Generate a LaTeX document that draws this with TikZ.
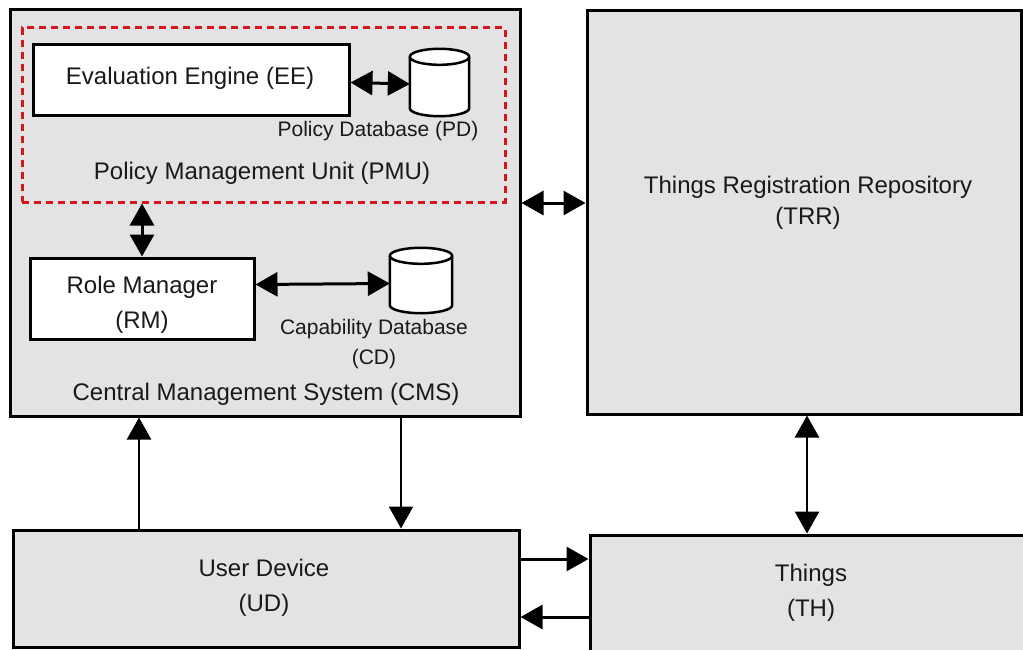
\documentclass[tikz,border=0pt]{standalone}
\usepackage{fontspec}
\setmainfont{Liberation Sans}
\usetikzlibrary{arrows.meta,calc}

\definecolor{boxgray}{RGB}{227,227,227}
\definecolor{pmured}{RGB}{214,22,28}

\tikzset{
  x=1pt, y=1pt,
  block/.style={draw=black, line width=3pt, fill=boxgray, inner sep=0pt},
  inner/.style={draw=black, line width=3pt, fill=white, inner sep=0pt},
  unit/.style={draw=pmured, line width=3pt, dash pattern=on 7pt off 5pt, inner sep=0pt},
  dbshape/.style={inner sep=0pt},
  dbline/.style={draw=black, line width=2.5pt, fill=white},
  lbl/.style={inner sep=0pt, font=\fontsize{24}{29}\selectfont, text=black!90},
  small/.style={inner sep=0pt, font=\fontsize{21}{25}\selectfont, text=black!90},
  tip/.style={Triangle[length=22pt, width=24pt]},
  both/.style={{Triangle[length=22pt, width=24pt]}-{Triangle[length=22pt, width=24pt]}, line width=3pt},
  one/.style={-{Triangle[length=22pt, width=24pt]}, line width=2.2pt},
}

% cylinder drawn inside the bounding box of a named node
\newcommand\drawdb[1]{%
  \path[dbline] let \p1=(#1.north west), \p2=(#1.south east), \n1={(\x2-\x1)/2} in
    (\x1,\y1-8pt) -- (\x1,\y2+8pt)
    arc[start angle=180, end angle=360, x radius=\n1, y radius=8pt]
    -- (\x2,\y1-8pt)
    arc[start angle=0, end angle=180, x radius=\n1, y radius=8pt] -- cycle;
  \draw[line width=2.5pt] let \p1=(#1.north west), \p2=(#1.south east), \n1={(\x2-\x1)/2} in
    (\x1,\y1-8pt) arc[start angle=180, end angle=360, x radius=\n1, y radius=8pt];
}

\begin{document}
\begin{tikzpicture}
\clip (0,0) rectangle (1023,-650);
\fill[white] (0,0) rectangle (1023,-650);

% outer systems
\node[block, minimum width=510pt, minimum height=406pt] (cms) at (265,-213) {};
\node[block, minimum width=434pt, minimum height=403pt] (trr) at (804,-212.5) {};
\node[block, minimum width=506pt, minimum height=117pt] (ud) at (266,-588.5) {};
\node[block, minimum width=450pt, minimum height=130pt] (th) at (815,-600) {};

% policy management unit
\node[unit, minimum width=483pt, minimum height=174pt] (pmu) at (263.5,-115) {};
\node[inner, minimum width=316pt, minimum height=71pt] (ee) at (191,-80.5) {};
\node[dbshape, minimum width=59pt, minimum height=67pt] (pd) at (439.5,-82.5) {};
\drawdb{pd}

% role manager and capability database
\node[inner, minimum width=224pt, minimum height=81pt] (rm) at (142,-298.5) {};
\node[dbshape, minimum width=62pt, minimum height=65pt] (cd) at (421,-280.5) {};
\drawdb{cd}

% labels
\node[lbl] (eet) at (190,-78) {Evaluation Engine (EE)};
\node[small] (pdt) at (378,-131) {Policy Database (PD)};
\node[lbl] (pmut) at (262,-173) {Policy Management Unit (PMU)};
\node[lbl] (rmt1) at (142,-287) {Role Manager};
\node[lbl] (rmt2) at (142,-322) {(RM)};
\node[small] (cdt1) at (374,-329) {Capability Database};
\node[small] (cdt2) at (374,-359) {(CD)};
\node[lbl] (cmst) at (266,-394) {Central Management System (CMS)};
\node[lbl] (trrt1) at (808,-187) {Things Registration Repository};
\node[lbl] (trrt2) at (808,-218) {(TRR)};
\node[lbl] (udt1) at (264,-568) {User Device};
\node[lbl] (udt2) at (264,-605) {(UD)};
\node[lbl] (tht1) at (811,-575) {Things};
\node[lbl] (tht2) at (811,-610) {(TH)};

% connectors
\draw[both] ([yshift=-2pt]ee.east) -- ([yshift=-1.5pt]pd.west);
\draw[both] (rm.north |- pmu.south) -- (rm.north);
\draw[both] ([yshift=14pt]rm.east) -- ([yshift=-3pt]cd.west);
\draw[both] ([yshift=10pt]cms.east) -- ([yshift=9.5pt]trr.west);
\draw[both, line width=2.5pt] ([xshift=3pt]trr.south) -- ([xshift=3pt]trr.south |- th.north);
\draw[one] ([xshift=-127pt]ud.north) -- ([xshift=-127pt]ud.north |- cms.south);
\draw[one] ([xshift=136pt]cms.south) -- ([xshift=136pt]cms.south |- ud.north);
\draw[one, line width=3pt] ([yshift=29.5pt]ud.east) -- ([yshift=29.5pt]ud.east -| th.west);
\draw[one, line width=3pt] ([yshift=-28.5pt]ud.east -| th.west) -- ([yshift=-28.5pt]ud.east);
\end{tikzpicture}
\end{document}
